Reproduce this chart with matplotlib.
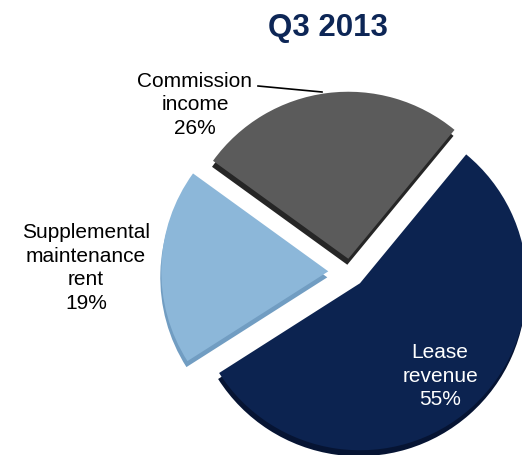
import numpy as np
import matplotlib
matplotlib.use("Agg")
import matplotlib.pyplot as plt

# data (clockwise from the top-right edge of the lease slice)
labels = ["Lease\nrevenue", "Supplemental\nmaintenance\nrent", "Commission\nincome"]
shares = [55, 19, 26]
colors = ["#0c2350", "#8cb7d9", "#5b5b5b"]
side_colors = ["#061433", "#719dc2", "#262626"]

plt.rcParams['font.family'] = ['Liberation Sans', 'DejaVu Sans']

W, H = 522, 455
fig = plt.figure(figsize=(W/100, H/100), dpi=100)
ax = fig.add_axes([0, 0, 1, 1])

cx, cy = 350, H - 272
R = 167
# pie explode is in data units here (pixels)
explode = [0.09*R, 0.13*R, 0.08*R]

# thickness: darker copy shifted down a few pixels
ax.pie(shares, colors=side_colors, explode=explode, startangle=50.5,
       counterclock=False, radius=R, center=(cx - 1, cy - 6), frame=True,
       wedgeprops=dict(linewidth=0))
ax.pie(shares, colors=colors, explode=explode, startangle=50.5,
       counterclock=False, radius=R, center=(cx, cy), frame=True,
       wedgeprops=dict(linewidth=0))
ax.set_xlim(0, W)
ax.set_ylim(0, H)
ax.set_aspect('equal')
ax.axis('off')

ax.text(328, H - 28, "Q3 2013", ha='center', va='center', fontsize=22.5,
        fontweight='bold', color="#0d2656")

fs = 15
ax.text(440, H - 376, f"{labels[0]}\n{shares[0]}%", ha='center', va='center',
        fontsize=fs, color='white', linespacing=1.3)
ax.text(86, H - 268, f"{labels[1]}\n{shares[1]}%", ha='center', va='center',
        fontsize=fs, color='black', linespacing=1.3)
ax.text(195, H - 105, f"{labels[2]}\n{shares[2]}%", ha='center', va='center',
        fontsize=fs, color='black', linespacing=1.3)
ax.plot([258, 322], [H - 86, H - 92], color='black', lw=1.2)

fig.savefig("out.png", dpi=100)
